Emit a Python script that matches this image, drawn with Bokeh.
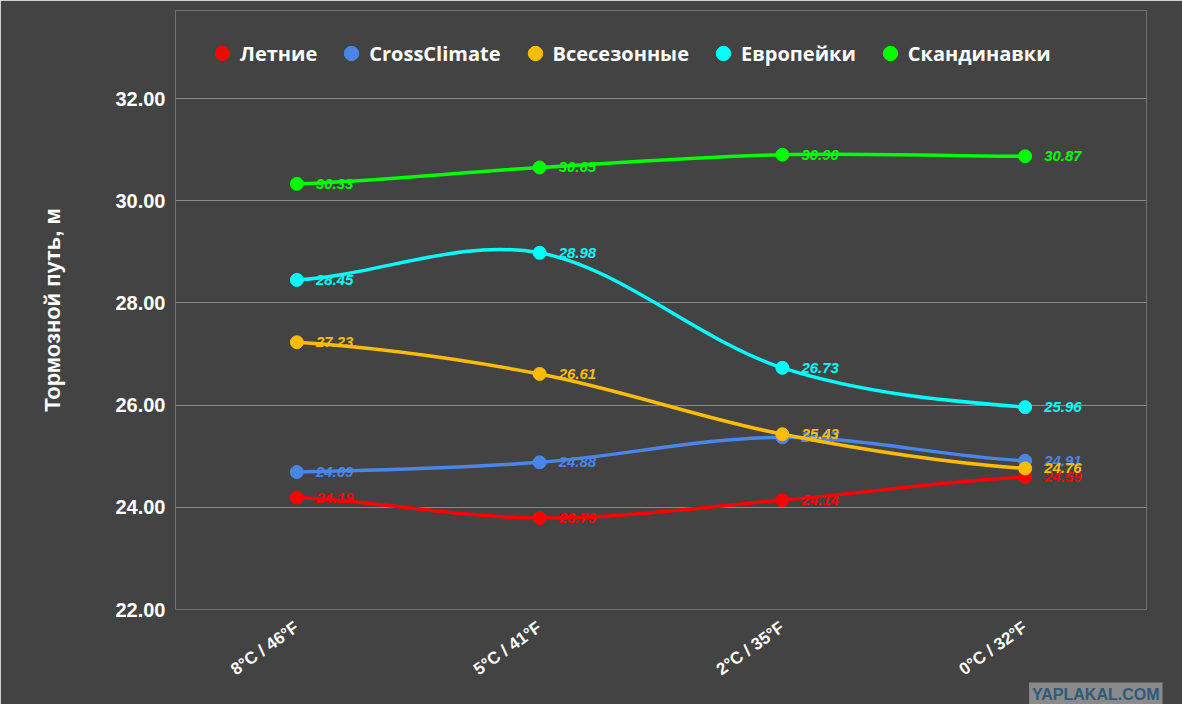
from bokeh.plotting import figure
from bokeh.models import (Range1d, FixedTicker, NumeralTickFormatter, Legend, LegendItem,
                          ColumnDataSource, Title)
from bokeh.core.properties import value
from bokeh.embed import file_html
from bokeh.resources import INLINE

categories = ["8°C / 46°F", "5°C / 41°F", "2°C / 35°F", "0°C / 32°F"]
series_names = ["Летние", "CrossClimate", "Всесезонные", "Европейки", "Скандинавки"]
letnie = [24.19, 23.79, 24.14, 24.59]
crossclimate = [24.69, 24.88, 25.37, 24.91]
vsesezonnye = [27.23, 26.61, 25.43, 24.76]
evropeyki = [28.45, 28.98, 26.73, 25.96]
skandinavki = [30.33, 30.65, 30.90, 30.87]
y_ticks = [22, 24, 26, 28, 30, 32]
y_title = "Тормозной путь, м"
badge_text = "YAPLAKAL.COM"
colors = ["#ff0000", "#4a86e8", "#fbbc04", "#00ffff", "#00ff00"]
series = [letnie, crossclimate, vsesezonnye, evropeyki, skandinavki]

BG = "#434343"
# frame spans the full height above the axis so the legend can sit inside it;
# 22..32 still maps onto the same pixel band as in the reference
px_per_unit = 511 / 10
frame_top = 10
y_max = 22 + (609 - frame_top) / px_per_unit

p = figure(width=1182, height=704, output_backend="svg", toolbar_location=None,
           x_range=Range1d(0, 4), y_range=Range1d(22, y_max),
           min_border_left=175, min_border_right=36, min_border_top=frame_top,
           min_border_bottom=95, outline_line_color=None)
p.background_fill_color = BG
p.border_fill_color = BG

xs = [i + 0.5 for i in range(len(categories))]

# axes
p.xaxis.ticker = FixedTicker(ticks=xs)
p.xaxis.major_label_overrides = {x: c for x, c in zip(xs, categories)}
p.xaxis.major_label_orientation = 0.62
p.yaxis.ticker = FixedTicker(ticks=y_ticks)
p.yaxis.formatter = NumeralTickFormatter(format="0.00")
for ax in (p.xaxis, p.yaxis):
    ax.axis_line_color = None
    ax.major_tick_line_color = None
    ax.minor_tick_line_color = None
    ax.major_label_text_color = "white"
    ax.major_label_text_font = "Liberation Sans"
    ax.major_label_text_font_style = "bold"
p.yaxis.major_label_text_font_size = "20px"
p.xaxis.major_label_text_font_size = "17px"
p.yaxis.major_label_standoff = 4
p.xaxis.major_label_standoff = 10
p.yaxis.axis_label = y_title
p.yaxis.axis_label_text_color = "white"
p.yaxis.axis_label_text_font = "Liberation Sans"
p.yaxis.axis_label_text_font_style = "bold"
p.yaxis.axis_label_text_font_size = "22px"
p.yaxis.axis_label_standoff = 47
p.xgrid.grid_line_color = None
p.ygrid.grid_line_color = "#8a8a8a"
p.ygrid.grid_line_width = 1

def smooth(ys):
    n = len(ys)
    m = []
    for i in range(n):
        if i == 0:
            m.append((ys[1] - ys[0]) / 2)
        elif i == n - 1:
            m.append((ys[-1] - ys[-2]) / 2)
        else:
            m.append((ys[i + 1] - ys[i - 1]) / 2)
    d = dict(x0=[], y0=[], x1=[], y1=[], cx0=[], cy0=[], cx1=[], cy1=[])
    for i in range(n - 1):
        d["x0"].append(xs[i]); d["y0"].append(ys[i])
        d["x1"].append(xs[i + 1]); d["y1"].append(ys[i + 1])
        d["cx0"].append(xs[i] + 1 / 3); d["cy0"].append(ys[i] + m[i] / 3)
        d["cx1"].append(xs[i + 1] - 1 / 3); d["cy1"].append(ys[i + 1] - m[i + 1] / 3)
    return d

items = []
for name, ys, col in zip(series_names, series, colors):
    src = ColumnDataSource(smooth(ys))
    p.bezier(x0="x0", y0="y0", x1="x1", y1="y1", cx0="cx0", cy0="cy0", cx1="cx1", cy1="cy1",
             source=src, line_color=col, line_width=3.5)
    pts = ColumnDataSource(dict(x=xs, y=ys, t=[f"{v:.2f}" for v in ys]))
    r = p.scatter("x", "y", source=pts, size=13, fill_color=col, line_color=col)
    p.text("x", "y", text="t", source=pts, x_offset=19, text_baseline="middle",
           text_color=col, text_font_size="15px", text_font_style="bold italic",
           text_font=value("Liberation Sans"))
    items.append(LegendItem(label=name, renderers=[r]))

legend = Legend(items=items, orientation="horizontal", location=(29, 538),
                background_fill_alpha=0, border_line_color=None,
                label_text_color="white", label_text_font="Open Sans",
                label_text_font_style="bold", label_text_font_size="20px",
                glyph_width=36, glyph_height=36, spacing=16, label_standoff=0)
p.add_layout(legend)

# watermark badge
p.add_layout(Title(text=badge_text, align="right", offset=-16, standoff=-18,
                   text_color="#2f5a7a", text_font="Liberation Sans",
                   text_font_style="bold", text_font_size="16px",
                   background_fill_color="#8a8a8a", padding=3), "below")

open("out.html", "w").write(file_html(p, INLINE))
